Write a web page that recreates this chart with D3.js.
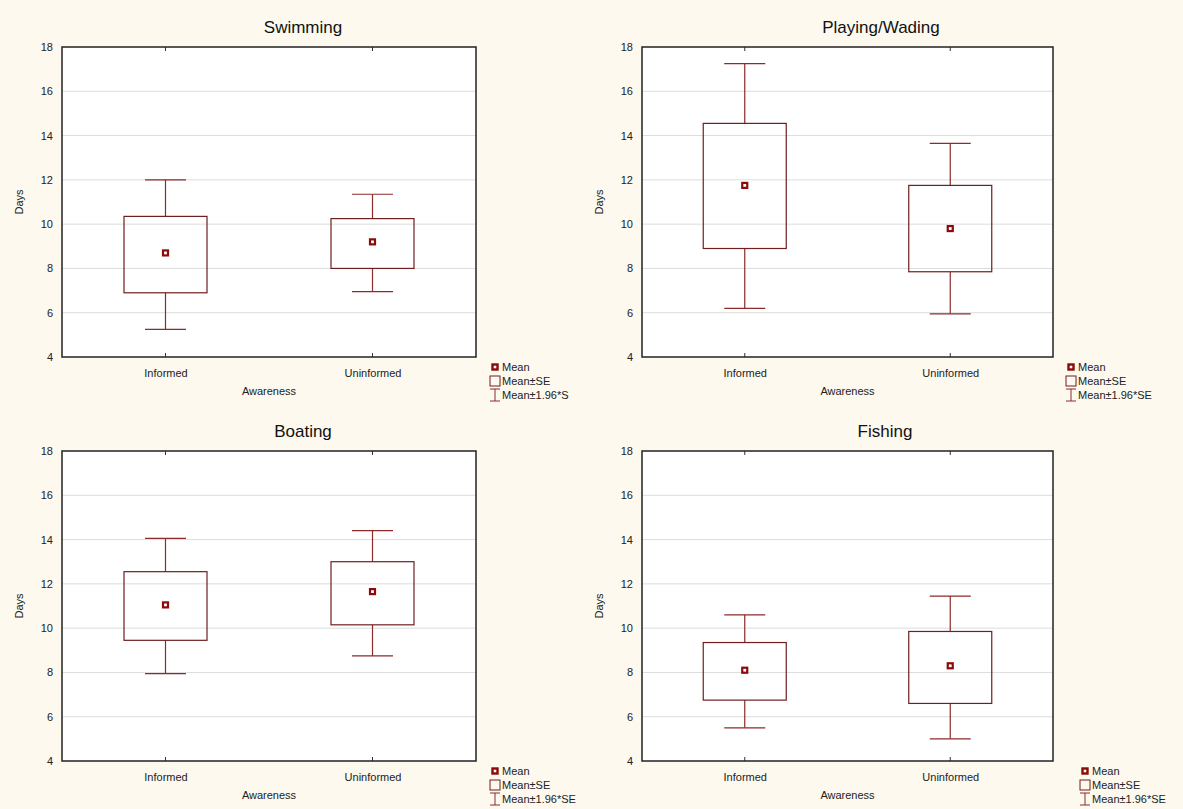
<!DOCTYPE html>
<html>
<head>
<meta charset="utf-8">
<script src="https://cdn.jsdelivr.net/npm/d3@7"></script>
<style>
  html, body { margin: 0; padding: 0; background: #fdf9ef; }
  svg { display: block; font-family: "Liberation Sans", Arial, sans-serif; }
</style>
</head>
<body>
<svg id="chart" width="1183" height="809"></svg>
<script>
// groups on the x axis
const groups = ["Informed", "Uninformed"];
const yTicks = [4, 6, 8, 10, 12, 14, 16, 18];

// values (days)
const titles = ["Swimming", "Playing/Wading", "Boating", "Fishing"];
const means   = [[8.7, 9.2],   [11.75, 9.8],  [11.05, 11.65], [8.1, 8.3]];
const seLow   = [[6.9, 8.0],   [8.9, 7.85],   [9.45, 10.15],  [6.75, 6.6]];
const seHigh  = [[10.35, 10.25],[14.55, 11.75],[12.55, 13.0],  [9.35, 9.85]];
const ciLow   = [[5.25, 6.95], [6.2, 5.95],   [7.95, 8.75],   [5.5, 5.0]];
const ciHigh  = [[12.0, 11.35],[17.25, 13.65],[14.05, 14.4],  [10.6, 11.45]];
const legendLabels = [
  ["Mean", "Mean±SE", "Mean±1.96*S"],
  ["Mean", "Mean±SE", "Mean±1.96*SE"],
  ["Mean", "Mean±SE", "Mean±1.96*SE"],
  ["Mean", "Mean±SE", "Mean±1.96*SE"]
];

// layout for the four panels
const panels = [
  { x0: 62,  x1: 476,  y0: 47,  y1: 357, titleX: 303, legendDx: 19 },
  { x0: 642, x1: 1053, y0: 47,  y1: 357, titleX: 881, legendDx: 18 },
  { x0: 62,  x1: 476,  y0: 451, y1: 761, titleX: 303, legendDx: 19 },
  { x0: 642, x1: 1053, y0: 451, y1: 761, titleX: 885, legendDx: 32 }
];

const svg = d3.select("#chart");
const boxColor = "#6e1f1f";
const whiskColor = "#8e2a2a";
const markColor = "#8b0a0a";

panels.forEach((p, i) => {
  const g = svg.append("g");
  const x = d3.scalePoint().domain(groups).range([p.x0, p.x1]).padding(0.5);
  const y = d3.scaleLinear().domain([4, 18]).range([p.y1, p.y0]);

  g.append("rect")
    .attr("x", p.x0).attr("y", p.y0)
    .attr("width", p.x1 - p.x0).attr("height", p.y1 - p.y0)
    .attr("fill", "#fff");

  // grid
  g.selectAll(".grid").data(yTicks.slice(1, -1)).enter().append("line")
    .attr("x1", p.x0).attr("x2", p.x1)
    .attr("y1", d => y(d)).attr("y2", d => y(d))
    .attr("stroke", "#dcdcdc").attr("stroke-width", 1);

  // y axis labels
  const yAxis = d3.axisLeft(y).tickValues(yTicks).tickSize(0).tickPadding(9);
  const ya = g.append("g").attr("transform", `translate(${p.x0},0)`).call(yAxis);
  ya.select(".domain").remove();
  ya.selectAll("text").attr("font-size", 11).attr("fill", "#222").attr("font-family", "Liberation Sans, Arial, sans-serif");

  // x axis labels
  const xAxis = d3.axisBottom(x).tickSize(0).tickPadding(12);
  const xa = g.append("g").attr("transform", `translate(0,${p.y1})`).call(xAxis);
  xa.select(".domain").remove();
  xa.selectAll("text").attr("font-size", 11).attr("fill", "#222").attr("font-family", "Liberation Sans, Arial, sans-serif");

  // inner ticks top & bottom
  groups.forEach(c => {
    g.append("line").attr("x1", x(c)).attr("x2", x(c)).attr("y1", p.y0).attr("y2", p.y0 + 4)
      .attr("stroke", "#333");
    g.append("line").attr("x1", x(c)).attr("x2", x(c)).attr("y1", p.y1).attr("y2", p.y1 - 4)
      .attr("stroke", "#333");
  });

  // frame
  g.append("rect")
    .attr("x", p.x0).attr("y", p.y0)
    .attr("width", p.x1 - p.x0).attr("height", p.y1 - p.y0)
    .attr("fill", "none").attr("stroke", "#222").attr("stroke-width", 1.5);

  // title and axis names
  g.append("text").attr("x", p.titleX).attr("y", p.y0 - 14)
    .attr("text-anchor", "middle").attr("font-size", 17).attr("fill", "#111")
    .text(titles[i]);
  g.append("text").attr("x", (p.x0 + p.x1) / 2).attr("y", p.y1 + 38)
    .attr("text-anchor", "middle").attr("font-size", 11).attr("fill", "#222")
    .text("Awareness");
  g.append("text")
    .attr("transform", `translate(${p.x0 - 39},${(p.y0 + p.y1) / 2}) rotate(-90)`)
    .attr("text-anchor", "middle").attr("font-size", 11).attr("fill", "#222")
    .text("Days");

  // boxes
  const bw = 83, cw = 41;
  groups.forEach((c, j) => {
    const cx = x(c);
    g.append("line").attr("x1", cx).attr("x2", cx)
      .attr("y1", y(ciHigh[i][j])).attr("y2", y(seHigh[i][j]))
      .attr("stroke", whiskColor).attr("stroke-width", 1.2);
    g.append("line").attr("x1", cx).attr("x2", cx)
      .attr("y1", y(seLow[i][j])).attr("y2", y(ciLow[i][j]))
      .attr("stroke", whiskColor).attr("stroke-width", 1.2);
    [ciHigh[i][j], ciLow[i][j]].forEach(v => {
      g.append("line").attr("x1", cx - cw / 2).attr("x2", cx + cw / 2)
        .attr("y1", y(v)).attr("y2", y(v))
        .attr("stroke", whiskColor).attr("stroke-width", 1.2);
    });
    g.append("rect")
      .attr("x", cx - bw / 2).attr("y", y(seHigh[i][j]))
      .attr("width", bw).attr("height", y(seLow[i][j]) - y(seHigh[i][j]))
      .attr("fill", "none").attr("stroke", boxColor).attr("stroke-width", 1.2);
    g.append("rect")
      .attr("x", cx - 2.5).attr("y", y(means[i][j]) - 2.5)
      .attr("width", 5).attr("height", 5)
      .attr("fill", "#fff").attr("stroke", markColor).attr("stroke-width", 2.2);
  });

  // legend
  const lx = p.x1 + p.legendDx;
  const ly = p.y1 + 10;
  g.append("rect").attr("x", lx - 2.5).attr("y", ly - 2.5).attr("width", 5).attr("height", 5)
    .attr("fill", "#fff").attr("stroke", markColor).attr("stroke-width", 2.4);
  g.append("rect").attr("x", lx - 5).attr("y", ly + 14 - 5).attr("width", 10).attr("height", 10)
    .attr("fill", "none").attr("stroke", boxColor).attr("stroke-width", 1);
  const wy = ly + 28;
  g.append("path")
    .attr("d", `M${lx - 5},${wy - 6}H${lx + 5}M${lx},${wy - 6}V${wy + 6}M${lx - 5},${wy + 6}H${lx + 5}`)
    .attr("stroke", whiskColor).attr("stroke-width", 1).attr("fill", "none");
  legendLabels[i].forEach((t, k) => {
    g.append("text").attr("x", lx + 7).attr("y", ly + k * 14 + 4)
      .attr("font-size", 11).attr("fill", "#222").text(t);
  });
});
</script>
</body>
</html>
